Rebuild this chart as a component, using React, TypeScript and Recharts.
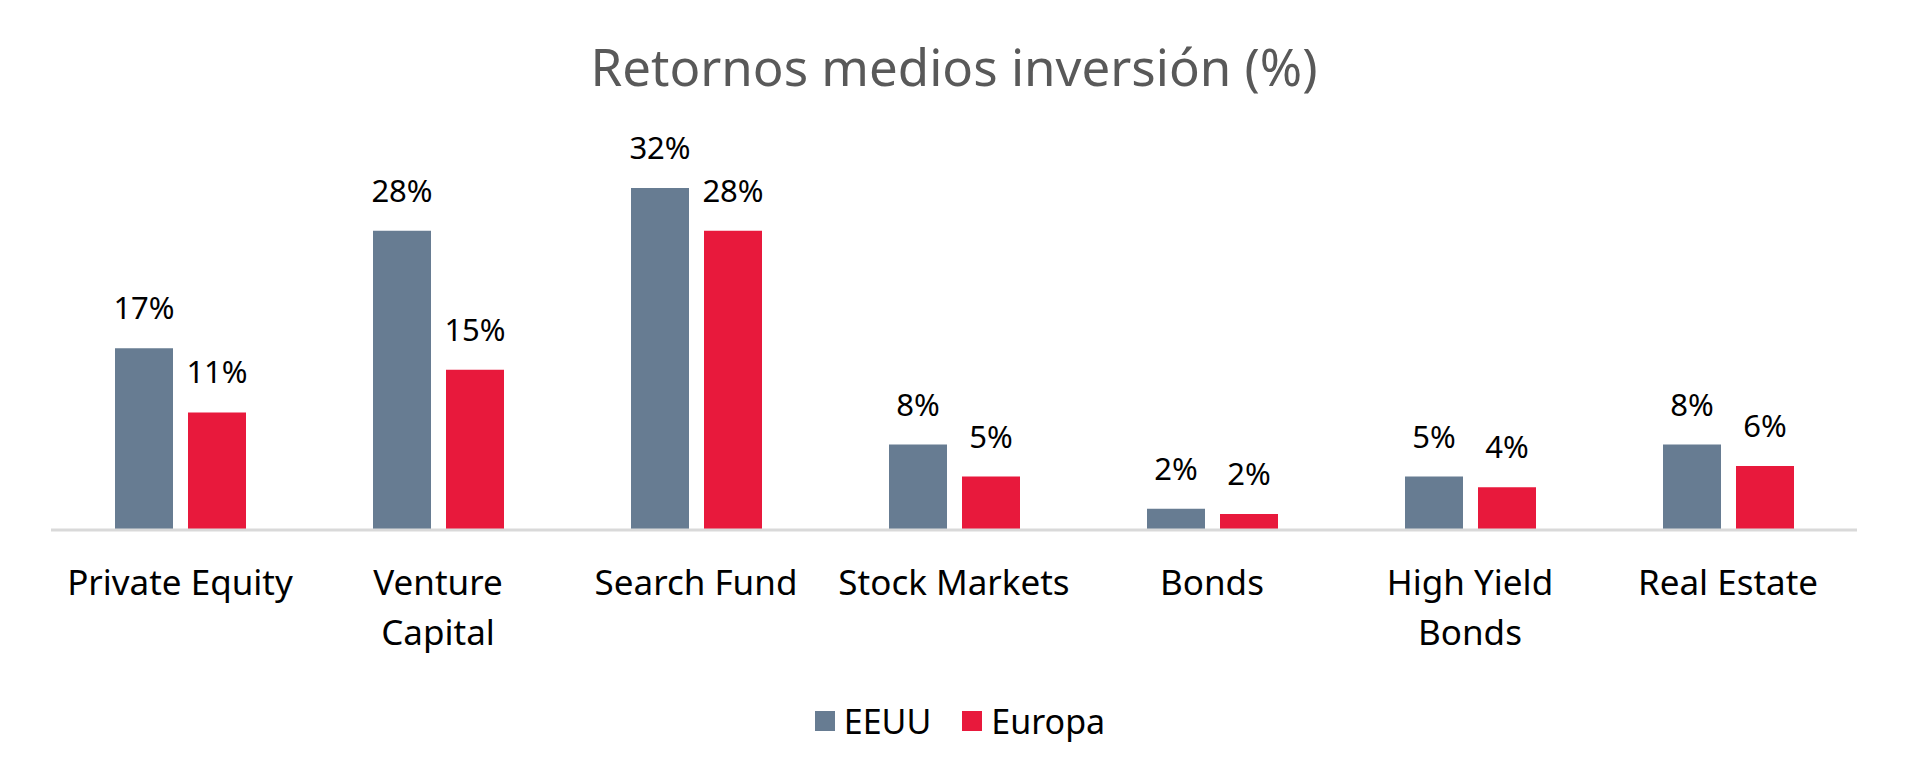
import React from 'react';
import { BarChart, Bar, XAxis, YAxis, LabelList, Legend } from 'recharts';

const title = 'Retornos medios inversión (%)';
const categories = ['Private Equity', 'Venture Capital', 'Search Fund', 'Stock Markets', 'Bonds', 'High Yield Bonds', 'Real Estate'];
const tickLabels = [['Private Equity'], ['Venture', 'Capital'], ['Search Fund'], ['Stock Markets'], ['Bonds'], ['High Yield', 'Bonds'], ['Real Estate']];
const eeuuValues = [17, 28, 32, 8, 2, 5, 8];
const europaValues = [11, 15, 28, 5, 1.5, 4, 6];
const seriesNames = ['EEUU', 'Europa'];
const seriesColors = ['#677C92', '#E8193C'];
const yDomain = [0, 35];

const data = categories.map((name, i) => ({ name, EEUU: eeuuValues[i], Europa: europaValues[i] }));

const FONT = "'Noto Sans', sans-serif";

const CategoryTick = (props: any) => {
  const { x, y, payload } = props;
  const idx = categories.indexOf(payload.value);
  const lines = tickLabels[idx] || [payload.value];
  return (
    <text x={x} y={y} textAnchor="middle" fontFamily={FONT} fontSize={35} fill="#000">
      {lines.map((l, k) => (
        <tspan key={k} x={x} dy={k === 0 ? 65 : 50}>{l}</tspan>
      ))}
    </text>
  );
};

const renderLegend = () => (
  <div style={{ height: 94, boxSizing: 'border-box', paddingTop: 7, paddingLeft: 12, display: 'flex', justifyContent: 'center', alignItems: 'flex-start', fontFamily: FONT, fontSize: 34, color: '#000' }}>
    {seriesNames.map((n, i) => (
      <div key={n} style={{ display: 'flex', alignItems: 'center', marginRight: i === 0 ? 31 : 0, height: 48 }}>
        <span style={{ display: 'inline-block', width: 20, height: 20, background: seriesColors[i], marginRight: 9 }} />
        <span style={{ lineHeight: '48px' }}>{n}</span>
      </div>
    ))}
  </div>
);

const fmt = (v: any) => `${Math.round(Number(v))}%`;

export default function App() {
  return (
    <div style={{ position: 'fixed', left: 0, top: 0, width: 1908, height: 784, background: '#fff' }}>
      <div style={{ position: 'absolute', left: 0, top: 41, width: 1908, textAlign: 'center', fontFamily: FONT, fontSize: 51, lineHeight: '51px', color: '#595959' }}>
        {title}
      </div>
      <BarChart width={1908} height={784} data={data} margin={{ top: 156, right: 51, bottom: 0, left: 51 }} barSize={58} barGap={15}>
        <YAxis hide domain={yDomain} width={0} />
        <XAxis dataKey="name" interval={0} height={160} tickLine={false} tickSize={0} tickMargin={0} axisLine={{ stroke: '#D9D9D9', strokeWidth: 3 }} tick={<CategoryTick />} />
        <Legend verticalAlign="bottom" content={renderLegend} />
        <Bar dataKey="EEUU" fill={seriesColors[0]} isAnimationActive={false}>
          <LabelList dataKey="EEUU" position="top" offset={29} formatter={fmt} fill="#000" fontSize={31} fontFamily={FONT} />
        </Bar>
        <Bar dataKey="Europa" fill={seriesColors[1]} isAnimationActive={false}>
          <LabelList dataKey="Europa" position="top" offset={29} formatter={fmt} fill="#000" fontSize={31} fontFamily={FONT} />
        </Bar>
      </BarChart>
    </div>
  );
}
